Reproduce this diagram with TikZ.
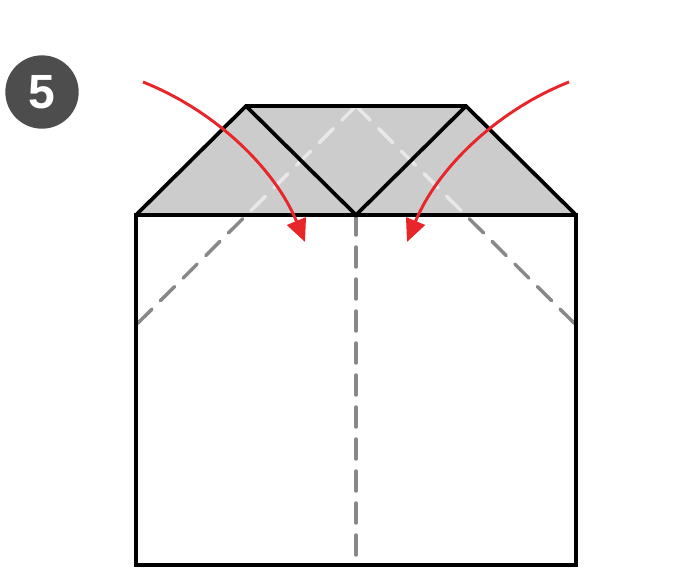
\documentclass[tikz,border=0pt]{standalone}
\usepackage{fontspec}
\setsansfont{Liberation Sans}
\usetikzlibrary{arrows.meta}
\definecolor{redarrow}{HTML}{E8262A}
\definecolor{badgegray}{HTML}{4D4D4D}
\definecolor{flapgray}{HTML}{CCCCCC}
\definecolor{dashdark}{HTML}{888888}
\definecolor{dashlight}{HTML}{E8E8E8}
\tikzset{
  edge/.style={black,line width=2.8pt,line join=miter},
  creasedark/.style={dashdark,line width=2.6pt,dash pattern=on 15pt off 9pt,line cap=round},
  creaselight/.style={dashlight,line width=2.6pt,dash pattern=on 15pt off 9pt,line cap=round},
  foldarrow/.style={redarrow,line width=2.2pt,-{Triangle[length=17pt,width=15pt]}},
}
\begin{document}
\begin{tikzpicture}[x=0.75pt,y=-0.75pt]
\useasboundingbox (0,0) rectangle (684,586);
% coordinates
\coordinate (BL) at (136,565);
\coordinate (BR) at (576,565);
\coordinate (TL) at (136,215);
\coordinate (TR) at (576,215);
\coordinate (TM) at (356,215);
\coordinate (BM) at (356,565);
\coordinate (UL) at (246,106);
\coordinate (UR) at (466,106);
\coordinate (Apex) at (356,106);
\coordinate (SL) at (136,325);
\coordinate (SR) at (576,325);
% shaded flap
\fill[flapgray] (TL) -- (UL) -- (UR) -- (TR) -- cycle;
% creases
\begin{scope}
\clip (0,0) rectangle (684,215);
\draw[creaselight] (Apex) -- (SL);
\draw[creaselight] (Apex) -- (SR);
\end{scope}
\begin{scope}
\clip (0,215) rectangle (684,586);
\draw[creasedark] (Apex) -- (SL);
\draw[creasedark] (Apex) -- (SR);
\end{scope}
\draw[creasedark] (TM) -- (BM);
% edges
\draw[edge] (TL) rectangle (BR);
\draw[edge] (TL) -- (UL) -- (UR) -- (TR);
\draw[edge] (UL) -- (TM) -- (UR);
% arrows
\coordinate (A1s) at (143,82);
\coordinate (A1e) at (305,242);
\coordinate (A2s) at (569,82);
\coordinate (A2e) at (407,242);
\draw[foldarrow] (A1s) .. controls (216,111) and (275,169) .. (A1e);
\draw[foldarrow] (A2s) .. controls (496,111) and (437,169) .. (A2e);
% badge
\node[circle,fill=badgegray,minimum size=55pt,inner sep=0pt,text=white,font=\sffamily\bfseries\fontsize{36}{36}\selectfont] (badge) at (42,92) {5};
\end{tikzpicture}
\end{document}
